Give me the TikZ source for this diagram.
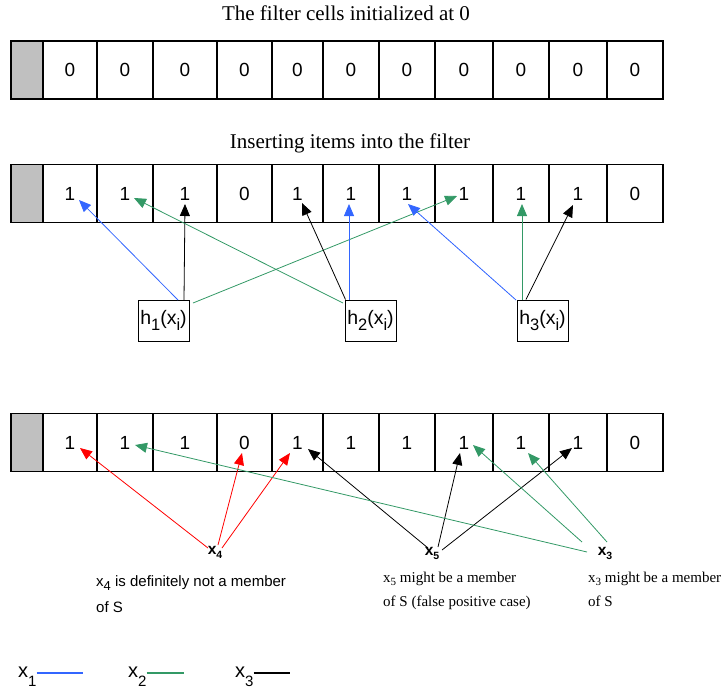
\documentclass[tikz,border=0pt]{standalone}
\usepackage{fontspec}
\setmainfont{Liberation Serif}
\setsansfont{Liberation Sans}
\usetikzlibrary{arrows.meta}
\definecolor{hblue}{RGB}{51,102,255}
\definecolor{hgreen}{RGB}{51,153,102}
\definecolor{hred}{RGB}{255,0,0}
\definecolor{cellgrey}{RGB}{192,192,192}
\newcommand\lowsub[3]{\raisebox{-#1}{\fontsize{#2}{#2}\selectfont #3}}
\begin{document}
\begin{tikzpicture}[x=1pt,y=-1pt,
  cell/.style={draw, line width=1.1pt, minimum height=58pt, inner sep=0pt,
    font=\sffamily\fontsize{19}{19}\selectfont},
  hbox/.style={draw, line width=1pt, minimum width=51pt, minimum height=41pt,
    inner sep=0pt, font=\sffamily\fontsize{19.5}{19.5}\selectfont},
  conn/.style={line width=0.8pt, -{Triangle[length=12pt,width=10pt]}},
  titletext/.style={font=\rmfamily\fontsize{21}{21}\selectfont, inner sep=0pt},
  xlabel/.style={font=\sffamily\bfseries\fontsize{15.5}{15.5}\selectfont, inner sep=0pt},
  sansnote/.style={font=\sffamily\fontsize{15}{15}\selectfont, inner sep=0pt, anchor=base west},
  serifnote/.style={font=\rmfamily\fontsize{15}{15}\selectfont, inner sep=0pt, anchor=base west},
  legendtext/.style={font=\sffamily\fontsize{20}{20}\selectfont, inner sep=0pt, anchor=base west},
  legendline/.style={line width=1.3pt}]
\useasboundingbox (0,0) rectangle (723,689);

% titles
\node[titletext, anchor=base] (t1) at (346,20) {The filter cells initialized at 0};
\node[titletext, anchor=base] (t2) at (350,148) {Inserting items into the filter};

% row 1
\node[cell, fill=cellgrey, minimum width=32pt] (a0) at (27,70) {};
\foreach \i/\cx/\w in {1/70/54,2/125/56,3/185/64,4/244.5/55,5/297.5/51,6/351/56,7/407/56,8/464/58,9/521/56,10/578/58,11/635/56}
  \node[cell, minimum width=\w pt] (a\i) at (\cx,70) {0};

% rows 2 and 3
\foreach \r/\cy in {b/193.5,c/442.5}{
  \node[cell, fill=cellgrey, minimum width=32pt] (\r0) at (27,\cy) {};
  \foreach \i/\cx/\w/\v in {1/70/54/1,2/125/56/1,3/185/64/1,4/244.5/55/0,5/297.5/51/1,6/351/56/1,7/407/56/1,8/464/58/1,9/521/56/1,10/578/58/1,11/635/56/0}
    \node[cell, minimum width=\w pt] (\r\i) at (\cx,\cy) {\v};
}

% hash boxes
\node[hbox] (h1) at (163.5,320.5) {h\lowsub{6pt}{16.5}{1}(x\lowsub{6pt}{16.5}{i})};
\node[hbox] (h2) at (370.5,320.5) {h\lowsub{6pt}{16.5}{2}(x\lowsub{6pt}{16.5}{i})};
\node[hbox] (h3) at (542.5,320.5) {h\lowsub{6pt}{16.5}{3}(x\lowsub{6pt}{16.5}{i})};

% row 2 connectors
\draw[conn, hblue]  ([shift={(14.5,-20.5)}]h1.center) -- ([shift={(9,6.5)}]b1.center);
\draw[conn, black]  ([shift={(20.5,-20.5)}]h1.center) -- ([shift={(0,10.5)}]b3.center);
\draw[conn, hgreen] ([shift={(29.5,-17.5)}]h1.center) -- ([shift={(-7,2.5)}]b8.center);

\draw[conn, black]  ([shift={(-25,-21)}]h2.center) -- ([shift={(4.5,9.5)}]b5.center);
\draw[conn, hblue]  ([shift={(-21.5,-21)}]h2.center) -- ([shift={(-2,10.5)}]b6.center);
\draw[conn, hgreen] ([shift={(-27.5,-17.5)}]h2.center) -- ([shift={(9,4.5)}]b2.center);

\draw[conn, hblue]  ([shift={(-26.5,-20.5)}]h3.center) -- ([shift={(1,10.5)}]b7.center);
\draw[conn, hgreen] ([shift={(-20.5,-21)}]h3.center) -- ([shift={(1,10.5)}]b9.center);
\draw[conn, black]  ([shift={(-16.5,-21)}]h3.center) -- ([shift={(-5,11.5)}]b10.center);

% query labels
\node[xlabel] (x4) at (215,552) {x\lowsub{4pt}{10.5}{4}};
\node[xlabel] (x5) at (432,553) {x\lowsub{4pt}{10.5}{5}};
\node[xlabel] (x3) at (605,553) {x\lowsub{4pt}{10.5}{3}};

% row 3 connectors
\draw[conn, hred] ([shift={(-7,-4)}]x4.center) -- ([shift={(10,5.5)}]c1.center);
\draw[conn, hred] ([shift={(3,-7)}]x4.center) -- ([shift={(-2.5,10.5)}]c4.center);
\draw[conn, hred] ([shift={(7,-4)}]x4.center) -- ([shift={(-7.5,10.5)}]c5.center);

\draw[conn, black] ([shift={(-4,-5)}]x5.center) -- ([shift={(10.5,6.5)}]c5.center);
\draw[conn, black] ([shift={(6,-6)}]x5.center) -- ([shift={(-4,10.5)}]c8.center);
\draw[conn, black] ([shift={(10,-3)}]x5.center) -- ([shift={(-6,5.5)}]c10.center);

\draw[conn, hgreen] ([shift={(-18,-1)}]x3.center) -- ([shift={(10,2.5)}]c2.center);
\draw[conn, hgreen] ([shift={(-23,-11)}]x3.center) -- ([shift={(9,2.5)}]c8.center);
\draw[conn, hgreen] ([shift={(2,-11)}]x3.center) -- ([shift={(7,10.5)}]c9.center);

% notes
\node[sansnote] (n4a) at (96,586) {x\lowsub{4pt}{13}{4} is definitely not a member};
\node[sansnote] (n4b) at (96,612) {of S};
\node[serifnote] (n5a) at (383,582) {x\lowsub{3pt}{11}{5} might be a member};
\node[serifnote] (n5b) at (383,606) {of S (false positive case)};
\node[serifnote] (n3a) at (588,582) {x\lowsub{3pt}{11}{3} might be a member};
\node[serifnote] (n3b) at (588,606) {of S};

% legend
\node[legendtext] (l1) at (18,677) {x\lowsub{9pt}{15}{1}};
\node[legendtext] (l2) at (128,677) {x\lowsub{9pt}{15}{2}};
\node[legendtext] (l3) at (235,677) {x\lowsub{9pt}{15}{3}};
\coordinate (l1e) at (83,673);
\coordinate (l2e) at (184,673);
\coordinate (l3e) at (290,673);
\draw[legendline, hblue]  (l1.east |- l1e) -- (l1e);
\draw[legendline, hgreen] (l2.east |- l2e) -- (l2e);
\draw[legendline, black]  (l3.east |- l3e) -- (l3e);
\end{tikzpicture}
\end{document}
